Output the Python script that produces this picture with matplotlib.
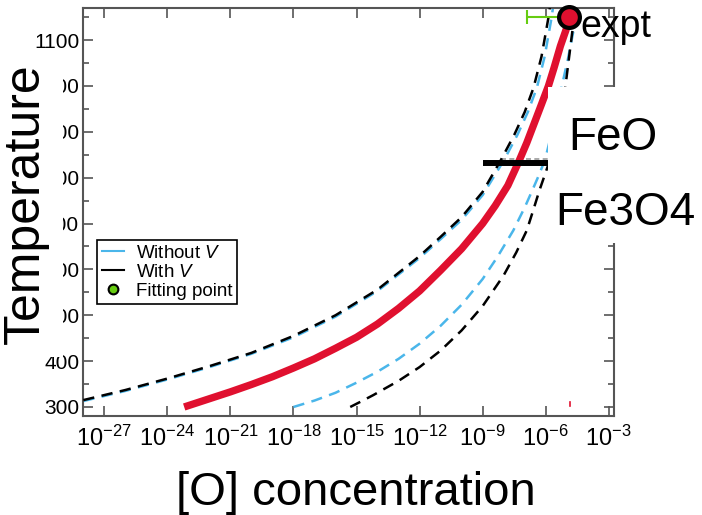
import matplotlib
matplotlib.use("Agg")
import matplotlib.pyplot as plt
from matplotlib.lines import Line2D
from matplotlib.patches import Rectangle
import numpy as np

plt.rcParams['font.family'] = ['Liberation Sans', 'DejaVu Sans']
plt.rcParams['mathtext.fontset'] = 'custom'
plt.rcParams['mathtext.rm'] = 'Liberation Sans'
plt.rcParams['mathtext.it'] = 'Liberation Sans:italic'

# ---- data (log10 of [O] concentration, temperature) ----
red_logx = [-23.2, -22, -21, -20, -19, -18, -17, -16, -15, -14, -13, -12, -11, -10, -9,
            -8.4, -7.8, -7.3, -6.9, -6.5, -6.2, -5.87, -5.6, -5.3, -5.05, -4.87]
red_T = [300, 318, 333, 349, 366, 385, 405, 428, 452, 481, 515, 553, 598, 645, 700,
         739, 783, 833, 876, 924, 960, 1000, 1040, 1087, 1120, 1146]

withV_left_logx = [-28, -26, -24, -22, -20, -18, -16, -14, -12, -11, -10, -9, -8.15,
                   -7.5, -7.0, -6.58, -6.2, -5.87, -5.7]
withV_left_T = [315, 337, 362, 389, 418, 455, 500, 556, 629, 671, 714, 769, 837,
                893, 943, 996, 1064, 1149, 1205]

woV_left_logx = [-28, -26, -24, -22, -20, -18, -16, -14, -12, -11, -10, -9, -8.0,
                 -7.35, -6.85, -6.42, -6.05, -5.72, -5.55]
woV_left_T = [313, 335, 360, 387, 416, 452, 497, 553, 625, 666, 708, 762, 837,
              893, 943, 996, 1064, 1149, 1205]

woV_right_logx = [-18, -17, -16, -15, -14, -13, -12, -11, -10, -9, -8.3, -7.54, -7.0,
                  -6.64, -6.3, -6.02, -5.6, -5.25, -4.95, -4.68]
woV_right_T = [300, 314, 331, 353, 377, 405, 438, 477, 523, 579, 627, 685, 735,
               772, 808, 841, 919, 996, 1057, 1120]

withV_right_logx = [-15.3, -14.7, -14.2, -13, -12, -11, -10, -9, -8, -7.4, -6.9, -6.6,
                    -6.3, -5.78, -5.4, -5.07, -4.73]
withV_right_T = [300, 314, 326, 357, 387, 423, 467, 520, 587, 637, 685, 728,
                 772, 841, 917, 996, 1120]

fit_logx = -4.87
fit_T = 1150
fit_err_left = 2.0  # decades

phase_T = 841
bar_T = 831
bar_logx = [-9.0, -5.0]
phase_logx = [-8.15, -5.0]

xtick_exp = [-27, -24, -21, -18, -15, -12, -9, -6, -3]
yticks = [300, 400, 500, 600, 700, 800, 900, 1000, 1100]

W, H = 702, 515
fig = plt.figure(figsize=(W / 100, H / 100), dpi=100)
ax = fig.add_axes([83.3 / W, 1 - 415.7 / H, (614 - 83.3) / W, (415.7 - 8) / H])

blue = '#4ab6ea'
red = '#e0102f'
green = '#66cc11'
dash = (0, (4.5, 3.0))

def X(l):
    return 10.0 ** np.asarray(l, dtype=float)

ax.plot(X(woV_left_logx), woV_left_T, color=blue, lw=1.8, linestyle=dash, zorder=2)
ax.plot(X(woV_right_logx), woV_right_T, color=blue, lw=1.8, linestyle=dash, zorder=2)
ax.plot(X(withV_left_logx), withV_left_T, color='black', lw=1.8, linestyle=dash, zorder=3)
ax.plot(X(withV_right_logx), withV_right_T, color='black', lw=1.8, linestyle=dash, zorder=3)
ax.plot(X(red_logx), red_T, color=red, lw=5.3, solid_capstyle='butt', solid_joinstyle='round', zorder=4)

ax.plot(X(phase_logx), [phase_T, phase_T], color='#999999', lw=1.2, linestyle=(0, (3, 2)), zorder=2)
ax.plot(X(bar_logx), [bar_T, bar_T], color='black', lw=4.3, solid_capstyle='butt', zorder=5)

# fitting point with error bar
ax.errorbar([X(fit_logx)], [fit_T],
            xerr=[[X(fit_logx) - X(fit_logx - fit_err_left)], [0]],
            fmt='none', ecolor=green, elinewidth=1.5, capsize=5, capthick=1.5, zorder=5)
ax.plot([X(fit_logx)], [fit_T], 'o', ms=15, mfc=red, mec='black', mew=3, zorder=6, clip_on=False)

# tiny red mark
ax.plot([X(-4.82)] * 2, [302, 311], color=red, lw=1.2, zorder=5)

ax.set_xscale('log')
ax.set_xlim(1e-28, 10 ** -2.75)
ax.set_ylim(281, 1170)
ax.set_xticks([10.0 ** e for e in xtick_exp])
ax.set_xticklabels(['10$^{%d}$' % e for e in xtick_exp], fontsize=17)
ax.xaxis.set_minor_locator(matplotlib.ticker.NullLocator())
ax.set_yticks(yticks)
ax.set_yticklabels([str(t) for t in yticks], fontsize=15)
ax.set_yticks(np.arange(350, 1170, 100), minor=True)

for s in ax.spines.values():
    s.set_color('#555555')
    s.set_linewidth(1.5)
ax.tick_params(which='major', direction='in', length=7, width=1.2, color='#555555',
               top=True, right=True, labelcolor='black')
ax.tick_params(which='minor', direction='in', length=4, width=1.2, color='#555555',
               top=True, right=True)
ax.tick_params(axis='x', pad=7)
ax.tick_params(axis='y', pad=3)

handles = [Line2D([], [], color=blue, lw=1.5),
           Line2D([], [], color='black', lw=1.5),
           Line2D([], [], marker='o', color='none', mfc='#66cc11', mec='black', mew=1.5, ms=7)]
labels = ['Without $V$', 'With $V$', 'Fitting point']
leg = ax.legend(handles, labels, loc='upper left', bbox_to_anchor=(0.026, 0.431),
                borderaxespad=0, fontsize=13.5, handlelength=1.2, handletextpad=0.6,
                labelspacing=0.1, borderpad=0.25, fancybox=False, framealpha=1)
leg.get_frame().set_edgecolor('black')
leg.get_frame().set_linewidth(1.2)

# white patch covering right part (annotations)
fig.add_artist(Rectangle((548 / W, 1 - 243 / H), (W - 548) / W, (243 - 87) / H,
                         transform=fig.transFigure, facecolor='white', edgecolor='none', zorder=10))
fig.text(580 / W, 1 - 37 / H, 'expt', fontsize=27, ha='left', va='baseline', zorder=11)
fig.text(568 / W, 1 - 150 / H, 'FeO', fontsize=33, ha='left', va='baseline', zorder=11)
fig.text(555 / W, 1 - 225 / H, 'Fe3O4', fontsize=33, ha='left', va='baseline', zorder=11)

# white patch behind the y label, partly covering the tick labels
fig.add_artist(Rectangle((0, 1 - 357 / H), 63 / W, (357 - 52) / H,
                         transform=fig.transFigure, facecolor='white', edgecolor='none', zorder=10))
fig.text(26 / W, 1 - 204 / H, 'Temperature', fontsize=36, rotation=90, ha='center', va='center',
         zorder=11)
fig.text(356 / W, 1 - 505 / H, '[O] concentration', fontsize=34, ha='center', va='baseline', zorder=11)

fig.savefig('out.png', dpi=100)
